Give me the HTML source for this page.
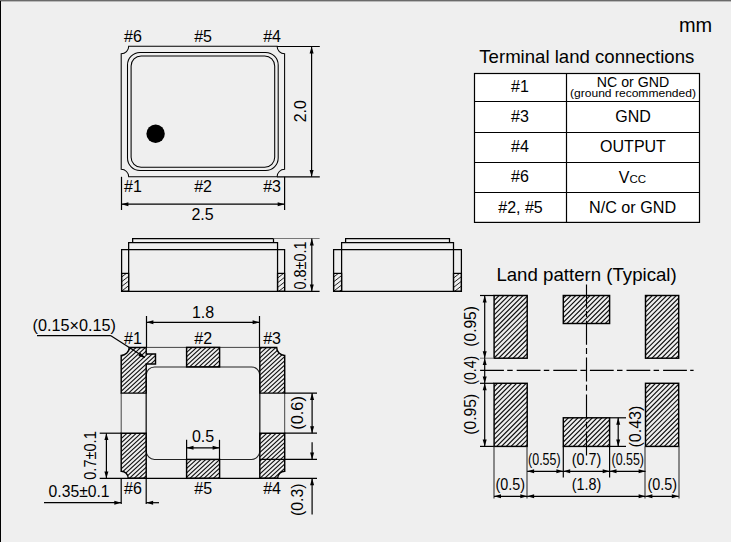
<!DOCTYPE html>
<html><head><meta charset="utf-8"><title>Package dimensions</title>
<style>
html,body{margin:0;padding:0;background:#efefef;}
body{width:731px;height:542px;overflow:hidden;font-family:"Liberation Sans",sans-serif;}
svg{display:block;}
svg text{font-family:"Liberation Sans",sans-serif;fill:#000;}
</style></head><body>
<svg width="731" height="542" viewBox="0 0 731 542">
<rect x="0" y="0" width="731" height="542" fill="#efefef"/>
<rect x="0" y="0" width="731" height="1" fill="#6a6a6a"/>
<rect x="0" y="1" width="731" height="1" fill="#b9b9b9"/>
<rect x="0" y="1" width="1" height="541" fill="#000"/>
<path d="M128.7,46.25 H277.1 A7.5 7.5 0 0 0 284.6,53.75 V169.3 A7.5 7.5 0 0 0 277.1,176.8 H128.7 A7.5 7.5 0 0 0 121.2,169.3 V53.75 A7.5 7.5 0 0 0 128.7,46.25 Z" fill="none" stroke="#000" stroke-width="1.05"/>
<rect x="127.5" y="52.5" width="150.7" height="118.0" rx="12.5" fill="none" stroke="#000" stroke-width="1.05"/>
<rect x="131.1" y="56.0" width="143.6" height="111.19999999999999" rx="10" fill="none" stroke="#000" stroke-width="1.05"/>
<circle cx="155.6" cy="133.8" r="9.2" fill="#000"/>
<line x1="277.1" y1="46.5" x2="319.8" y2="46.5" stroke="#000" stroke-width="1.2" />
<line x1="277.1" y1="176.8" x2="319.8" y2="176.8" stroke="#000" stroke-width="1.2" />
<line x1="311.6" y1="46.5" x2="311.6" y2="176.8" stroke="#000" stroke-width="1.2" />
<polygon points="311.6,46.5 309.6,53.4 313.6,53.4" fill="#000"/>
<polygon points="311.6,176.8 309.6,169.9 313.6,169.9" fill="#000"/>
<line x1="121.5" y1="176.8" x2="121.5" y2="210" stroke="#000" stroke-width="1.2" />
<line x1="284.6" y1="176.8" x2="284.6" y2="210" stroke="#000" stroke-width="1.2" />
<line x1="121.5" y1="204.2" x2="284.6" y2="204.2" stroke="#000" stroke-width="1.2" />
<polygon points="121.5,204.2 128.4,202.2 128.4,206.2" fill="#000"/>
<polygon points="284.6,204.2 277.7,202.2 277.7,206.2" fill="#000"/>
<text x="124.1" y="42" font-size="16">#6</text>
<text x="194.2" y="42" font-size="16">#5</text>
<text x="263.2" y="42" font-size="16">#4</text>
<text x="124.1" y="191.7" font-size="16">#1</text>
<text x="194.2" y="191.7" font-size="16">#2</text>
<text x="263.2" y="191.7" font-size="16">#3</text>
<text x="202.6" y="220" font-size="16" text-anchor="middle">2.5</text>
<text x="306" y="111.2" font-size="16" text-anchor="middle" transform="rotate(-90 306 111.2)">2.0</text>
<clipPath id="c1"><path d="M121.6,273.4H128.65V291.3H121.6Z"/></clipPath>
<path d="M88.92,293.30L116.88,271.40M94.92,293.30L122.88,271.40M100.92,293.30L128.88,271.40M106.92,293.30L134.88,271.40M112.92,293.30L140.88,271.40M118.92,293.30L146.88,271.40M124.92,293.30L152.88,271.40M130.92,293.30L158.88,271.40M136.92,293.30L164.88,271.40" stroke="#222" stroke-width="1.0" fill="none" clip-path="url(#c1)"/>
<rect x="121.6" y="273.4" width="7.05" height="17.9" fill="none" stroke="#000" stroke-width="1.25"/>
<clipPath id="c2"><path d="M277.55,273.4H284.6V291.3H277.55Z"/></clipPath>
<path d="M246.15,293.30L274.10,271.40M252.15,293.30L280.10,271.40M258.15,293.30L286.10,271.40M264.15,293.30L292.10,271.40M270.15,293.30L298.10,271.40M276.15,293.30L304.10,271.40M282.15,293.30L310.10,271.40M288.15,293.30L316.10,271.40" stroke="#222" stroke-width="1.0" fill="none" clip-path="url(#c2)"/>
<rect x="277.55" y="273.4" width="7.05" height="17.9" fill="none" stroke="#000" stroke-width="1.25"/>
<path d="M121.6,249.6 H284.6 V291.3 H121.6 Z" fill="none" stroke="#000" stroke-width="1.25"/>
<path d="M128.65,291.3 V242.7 H277.55 V291.3" fill="none" stroke="#000" stroke-width="1.25"/>
<path d="M132.65,242.7 V238.7 H273.5 V242.7" fill="none" stroke="#000" stroke-width="1.25"/>
<clipPath id="c3"><path d="M333.6,273.4H341.6V291.3H333.6Z"/></clipPath>
<path d="M300.92,293.30L328.88,271.40M306.92,293.30L334.88,271.40M312.92,293.30L340.88,271.40M318.92,293.30L346.88,271.40M324.92,293.30L352.88,271.40M330.92,293.30L358.88,271.40M336.92,293.30L364.88,271.40M342.92,293.30L370.88,271.40M348.92,293.30L376.88,271.40" stroke="#222" stroke-width="1.0" fill="none" clip-path="url(#c3)"/>
<rect x="333.6" y="273.4" width="8.0" height="17.9" fill="none" stroke="#000" stroke-width="1.25"/>
<clipPath id="c4"><path d="M453.5,273.4H461.4V291.3H453.5Z"/></clipPath>
<path d="M422.10,293.30L450.05,271.40M428.10,293.30L456.05,271.40M434.10,293.30L462.05,271.40M440.10,293.30L468.05,271.40M446.10,293.30L474.05,271.40M452.10,293.30L480.05,271.40M458.10,293.30L486.05,271.40M464.10,293.30L492.05,271.40M470.10,293.30L498.05,271.40" stroke="#222" stroke-width="1.0" fill="none" clip-path="url(#c4)"/>
<rect x="453.5" y="273.4" width="7.9" height="17.9" fill="none" stroke="#000" stroke-width="1.25"/>
<path d="M333.6,249.6 H461.4 V291.3 H333.6 Z" fill="none" stroke="#000" stroke-width="1.25"/>
<path d="M341.6,291.3 V242.7 H453.5 V291.3" fill="none" stroke="#000" stroke-width="1.25"/>
<path d="M345.6,242.7 V238.7 H449.5 V242.7" fill="none" stroke="#000" stroke-width="1.25"/>
<line x1="273.5" y1="238.5" x2="319.6" y2="238.5" stroke="#777" stroke-width="1.0" />
<line x1="284.6" y1="291.3" x2="319.6" y2="291.3" stroke="#000" stroke-width="1.2" />
<line x1="311.8" y1="238.5" x2="311.8" y2="291.3" stroke="#000" stroke-width="1.2" />
<polygon points="311.8,238.5 309.8,245.4 313.8,245.4" fill="#000"/>
<polygon points="311.8,291.3 309.8,284.4 313.8,284.4" fill="#000"/>
<text x="306.2" y="265.5" font-size="16" text-anchor="middle" textLength="48" lengthAdjust="spacingAndGlyphs" transform="rotate(-90 306.2 265.5)">0.8±0.1</text>
<line x1="146.2" y1="347.4" x2="259.8" y2="347.4" stroke="#444" stroke-width="1.0" />
<line x1="121.2" y1="393.1" x2="121.2" y2="433.2" stroke="#444" stroke-width="1.0" />
<line x1="284.7" y1="393.1" x2="284.7" y2="433.2" stroke="#444" stroke-width="1.0" />
<line x1="146.2" y1="393.1" x2="146.2" y2="433.2" stroke="#444" stroke-width="1.0" />
<line x1="259.8" y1="393.1" x2="259.8" y2="433.2" stroke="#444" stroke-width="1.0" />
<line x1="99.7" y1="478.3" x2="317" y2="478.3" stroke="#000" stroke-width="1.2" />
<path d="M146.2,375.3 A8.3 8.3 0 0 1 154.5,367.0 H251.5 A8.3 8.3 0 0 1 259.8,375.3 V451.09999999999997 A8.3 8.3 0 0 1 251.5,459.4 H154.5 A8.3 8.3 0 0 1 146.2,451.09999999999997 Z" fill="none" stroke="#222" stroke-width="1.05"/>
<clipPath id="c5"><path d="M129.2,347.4 H146.2 V354.0 H155.5 V364.0 H146.2 V393.1 H121.2 V355.4 A8 8 0 0 0 129.2,347.4 Z"/></clipPath>
<path d="M61.18,395.10L115.04,345.40M65.84,395.10L119.70,345.40M70.50,395.10L124.36,345.40M75.16,395.10L129.02,345.40M79.82,395.10L133.68,345.40M84.48,395.10L138.34,345.40M89.14,395.10L143.00,345.40M93.80,395.10L147.66,345.40M98.46,395.10L152.32,345.40M103.12,395.10L156.98,345.40M107.78,395.10L161.64,345.40M112.44,395.10L166.30,345.40M117.10,395.10L170.96,345.40M121.76,395.10L175.62,345.40M126.42,395.10L180.28,345.40M131.08,395.10L184.94,345.40M135.74,395.10L189.60,345.40M140.40,395.10L194.26,345.40M145.06,395.10L198.92,345.40M149.72,395.10L203.58,345.40M154.38,395.10L208.24,345.40M159.04,395.10L212.90,345.40" stroke="#111" stroke-width="1.1" fill="none" clip-path="url(#c5)"/>
<path d="M129.2,347.4 H146.2 V354.0 H155.5 V364.0 H146.2 V393.1 H121.2 V355.4 A8 8 0 0 0 129.2,347.4 Z" fill="none" stroke="#000" stroke-width="1.45"/>
<clipPath id="c6"><path d="M259.8,347.4 H276.7 A8 8 0 0 0 284.7,355.4 V393.1 H259.8 Z"/></clipPath>
<path d="M200.98,395.10L254.84,345.40M205.64,395.10L259.50,345.40M210.30,395.10L264.16,345.40M214.96,395.10L268.82,345.40M219.62,395.10L273.48,345.40M224.28,395.10L278.14,345.40M228.94,395.10L282.80,345.40M233.60,395.10L287.46,345.40M238.26,395.10L292.12,345.40M242.92,395.10L296.78,345.40M247.58,395.10L301.44,345.40M252.24,395.10L306.10,345.40M256.90,395.10L310.76,345.40M261.56,395.10L315.42,345.40M266.22,395.10L320.08,345.40M270.88,395.10L324.74,345.40M275.54,395.10L329.40,345.40M280.20,395.10L334.06,345.40M284.86,395.10L338.72,345.40M289.52,395.10L343.38,345.40" stroke="#111" stroke-width="1.1" fill="none" clip-path="url(#c6)"/>
<path d="M259.8,347.4 H276.7 A8 8 0 0 0 284.7,355.4 V393.1 H259.8 Z" fill="none" stroke="#000" stroke-width="1.45"/>
<clipPath id="c7"><path d="M121.2,433.2 H146.2 V478.3 H128.2 A7 7 0 0 0 121.2,471.3 Z"/></clipPath>
<path d="M62.04,480.30L115.26,431.20M66.70,480.30L119.92,431.20M71.36,480.30L124.58,431.20M76.02,480.30L129.24,431.20M80.68,480.30L133.90,431.20M85.34,480.30L138.56,431.20M90.00,480.30L143.22,431.20M94.66,480.30L147.88,431.20M99.32,480.30L152.54,431.20M103.98,480.30L157.20,431.20M108.64,480.30L161.86,431.20M113.30,480.30L166.52,431.20M117.96,480.30L171.18,431.20M122.62,480.30L175.84,431.20M127.28,480.30L180.50,431.20M131.94,480.30L185.16,431.20M136.60,480.30L189.82,431.20M141.26,480.30L194.48,431.20M145.92,480.30L199.14,431.20M150.58,480.30L203.80,431.20" stroke="#111" stroke-width="1.1" fill="none" clip-path="url(#c7)"/>
<path d="M121.2,433.2 H146.2 V478.3 H128.2 A7 7 0 0 0 121.2,471.3 Z" fill="none" stroke="#000" stroke-width="1.45"/>
<clipPath id="c8"><path d="M259.8,433.2 H284.7 V471.3 A7 7 0 0 0 277.7,478.3 H259.8 Z"/></clipPath>
<path d="M201.84,480.30L255.06,431.20M206.50,480.30L259.72,431.20M211.16,480.30L264.38,431.20M215.82,480.30L269.04,431.20M220.48,480.30L273.70,431.20M225.14,480.30L278.36,431.20M229.80,480.30L283.02,431.20M234.46,480.30L287.68,431.20M239.12,480.30L292.34,431.20M243.78,480.30L297.00,431.20M248.44,480.30L301.66,431.20M253.10,480.30L306.32,431.20M257.76,480.30L310.98,431.20M262.42,480.30L315.64,431.20M267.08,480.30L320.30,431.20M271.74,480.30L324.96,431.20M276.40,480.30L329.62,431.20M281.06,480.30L334.28,431.20M285.72,480.30L338.94,431.20M290.38,480.30L343.60,431.20" stroke="#111" stroke-width="1.1" fill="none" clip-path="url(#c8)"/>
<path d="M259.8,433.2 H284.7 V471.3 A7 7 0 0 0 277.7,478.3 H259.8 Z" fill="none" stroke="#000" stroke-width="1.45"/>
<clipPath id="c9"><path d="M186.6,347.4H219.6V366.9H186.6Z"/></clipPath>
<path d="M154.81,368.90L180.28,345.40M159.47,368.90L184.94,345.40M164.13,368.90L189.60,345.40M168.79,368.90L194.26,345.40M173.45,368.90L198.92,345.40M178.11,368.90L203.58,345.40M182.77,368.90L208.24,345.40M187.43,368.90L212.90,345.40M192.09,368.90L217.56,345.40M196.75,368.90L222.22,345.40M201.41,368.90L226.88,345.40M206.07,368.90L231.54,345.40M210.73,368.90L236.20,345.40M215.39,368.90L240.86,345.40M220.05,368.90L245.52,345.40M224.71,368.90L250.18,345.40" stroke="#111" stroke-width="1.1" fill="none" clip-path="url(#c9)"/>
<rect x="186.6" y="347.4" width="33.0" height="19.5" fill="none" stroke="#000" stroke-width="1.45"/>
<clipPath id="c10"><path d="M186.6,459.4H219.6V478.3H186.6Z"/></clipPath>
<path d="M155.24,480.30L180.06,457.40M159.90,480.30L184.72,457.40M164.56,480.30L189.38,457.40M169.22,480.30L194.04,457.40M173.88,480.30L198.70,457.40M178.54,480.30L203.36,457.40M183.20,480.30L208.02,457.40M187.86,480.30L212.68,457.40M192.52,480.30L217.34,457.40M197.18,480.30L222.00,457.40M201.84,480.30L226.66,457.40M206.50,480.30L231.32,457.40M211.16,480.30L235.98,457.40M215.82,480.30L240.64,457.40M220.48,480.30L245.30,457.40M225.14,480.30L249.96,457.40" stroke="#111" stroke-width="1.1" fill="none" clip-path="url(#c10)"/>
<rect x="186.6" y="459.4" width="33.0" height="18.9" fill="none" stroke="#000" stroke-width="1.45"/>
<line x1="146.5" y1="316" x2="146.5" y2="347.4" stroke="#000" stroke-width="1.2" />
<line x1="259.5" y1="316" x2="259.5" y2="347.4" stroke="#000" stroke-width="1.2" />
<line x1="146.5" y1="322.3" x2="259.5" y2="322.3" stroke="#000" stroke-width="1.2" />
<polygon points="146.5,322.3 153.4,320.3 153.4,324.3" fill="#000"/>
<polygon points="259.5,322.3 252.6,320.3 252.6,324.3" fill="#000"/>
<text x="203" y="318" font-size="16" text-anchor="middle">1.8</text>
<text x="124.1" y="344" font-size="16">#1</text>
<text x="194.3" y="343.8" font-size="16">#2</text>
<text x="263.2" y="343.8" font-size="16">#3</text>
<text x="124.1" y="494" font-size="16">#6</text>
<text x="194.3" y="494" font-size="16">#5</text>
<text x="263.2" y="494" font-size="16">#4</text>
<text x="32.6" y="331.2" font-size="16" textLength="83.3" lengthAdjust="spacingAndGlyphs">(0.15×0.15)</text>
<line x1="37" y1="335.7" x2="110.9" y2="335.7" stroke="#000" stroke-width="1.2" />
<line x1="110.9" y1="335.7" x2="144.5" y2="357.3" stroke="#000" stroke-width="1.2" />
<polygon points="145.6,358 138.3,356 140.3,352.8" fill="#000"/>
<line x1="186.6" y1="439.8" x2="186.6" y2="459.4" stroke="#000" stroke-width="1.2" />
<line x1="219.5" y1="439.8" x2="219.5" y2="459.4" stroke="#000" stroke-width="1.2" />
<line x1="186.6" y1="447.8" x2="219.5" y2="447.8" stroke="#000" stroke-width="1.2" />
<polygon points="186.6,447.8 193.5,445.8 193.5,449.8" fill="#000"/>
<polygon points="219.5,447.8 212.6,445.8 212.6,449.8" fill="#000"/>
<text x="203" y="442.4" font-size="16" text-anchor="middle">0.5</text>
<line x1="99.7" y1="433.2" x2="121.2" y2="433.2" stroke="#000" stroke-width="1.2" />
<line x1="106.4" y1="433.2" x2="106.4" y2="478.3" stroke="#000" stroke-width="1.2" />
<polygon points="106.4,433.2 104.4,440.1 108.4,440.1" fill="#000"/>
<polygon points="106.4,478.3 104.4,471.4 108.4,471.4" fill="#000"/>
<text x="96" y="455.5" font-size="16" text-anchor="middle" textLength="48.5" lengthAdjust="spacingAndGlyphs" transform="rotate(-90 96 455.5)">0.7±0.1</text>
<line x1="121.2" y1="478.3" x2="121.2" y2="504" stroke="#000" stroke-width="1.2" />
<line x1="146.2" y1="478.3" x2="146.2" y2="504" stroke="#000" stroke-width="1.2" />
<line x1="44" y1="502.7" x2="121.2" y2="502.7" stroke="#000" stroke-width="1.2" />
<polygon points="121.2,502.7 114.3,500.7 114.3,504.7" fill="#000"/>
<line x1="146.2" y1="502.7" x2="159" y2="502.7" stroke="#000" stroke-width="1.2" />
<polygon points="146.2,502.7 153.1,500.7 153.1,504.7" fill="#000"/>
<text x="48.6" y="497" font-size="16" textLength="61" lengthAdjust="spacingAndGlyphs">0.35±0.1</text>
<line x1="284.7" y1="393.1" x2="317" y2="393.1" stroke="#000" stroke-width="1.2" />
<line x1="284.7" y1="433.2" x2="317" y2="433.2" stroke="#000" stroke-width="1.2" />
<line x1="312.1" y1="393.1" x2="312.1" y2="433.2" stroke="#000" stroke-width="1.2" />
<polygon points="312.1,393.1 310.1,400.0 314.1,400.0" fill="#000"/>
<polygon points="312.1,433.2 310.1,426.3 314.1,426.3" fill="#000"/>
<text x="303.4" y="412.9" font-size="16" text-anchor="middle" textLength="33.5" lengthAdjust="spacingAndGlyphs" transform="rotate(-90 303.4 412.9)">(0.6)</text>
<line x1="259.8" y1="459.4" x2="317" y2="459.4" stroke="#000" stroke-width="1.2" />
<line x1="312.1" y1="442.3" x2="312.1" y2="459.4" stroke="#000" stroke-width="1.2" />
<polygon points="312.1,459.4 310.1,452.5 314.1,452.5" fill="#000"/>
<line x1="312.1" y1="478.3" x2="312.1" y2="514.5" stroke="#000" stroke-width="1.2" />
<polygon points="312.1,478.3 310.1,485.2 314.1,485.2" fill="#000"/>
<text x="303.4" y="499.8" font-size="16" text-anchor="middle" textLength="32.5" lengthAdjust="spacingAndGlyphs" transform="rotate(-90 303.4 499.8)">(0.3)</text>
<text x="479.3" y="63.2" font-size="18.6" textLength="215" lengthAdjust="spacingAndGlyphs">Terminal land connections</text>
<text x="678.9" y="31.8" font-size="19.9" textLength="33.2" lengthAdjust="spacingAndGlyphs">mm</text>
<rect x="474.5" y="73.5" width="225.0" height="148.9" fill="#fff" stroke="#000" stroke-width="1.2"/>
<line x1="474.5" y1="101.5" x2="699.5" y2="101.5" stroke="#000" stroke-width="1.2" />
<line x1="474.5" y1="132.5" x2="699.5" y2="132.5" stroke="#000" stroke-width="1.2" />
<line x1="474.5" y1="162.5" x2="699.5" y2="162.5" stroke="#000" stroke-width="1.2" />
<line x1="474.5" y1="192.5" x2="699.5" y2="192.5" stroke="#000" stroke-width="1.2" />
<line x1="566.5" y1="73.5" x2="566.5" y2="222.4" stroke="#000" stroke-width="1.2" />
<text x="520.0" y="92.3" font-size="16" text-anchor="middle">#1</text>
<text x="633.0" y="86.6" font-size="15" text-anchor="middle" textLength="72.3" lengthAdjust="spacingAndGlyphs">NC or GND</text>
<text x="633.0" y="97.2" font-size="11.5" text-anchor="middle" textLength="126" lengthAdjust="spacingAndGlyphs">(ground recommended)</text>
<text x="520.0" y="122.1" font-size="16" text-anchor="middle">#3</text>
<text x="633.0" y="122.1" font-size="16" text-anchor="middle">GND</text>
<text x="520.0" y="152" font-size="16" text-anchor="middle">#4</text>
<text x="633.0" y="152" font-size="16" text-anchor="middle">OUTPUT</text>
<text x="520.0" y="182.4" font-size="16" text-anchor="middle">#6</text>
<text x="632.5" y="183" font-size="16" text-anchor="middle">V<tspan font-size="11.5">CC</tspan></text>
<text x="520.5" y="212.8" font-size="16" text-anchor="middle">#2, #5</text>
<text x="632.6" y="212.8" font-size="16" text-anchor="middle" textLength="87.2" lengthAdjust="spacingAndGlyphs">N/C or GND</text>
<text x="496.4" y="281.1" font-size="18.6" textLength="180.3" lengthAdjust="spacingAndGlyphs">Land pattern (Typical)</text>
<clipPath id="c11"><path d="M494.1,295.5H527.2V358.2H494.1Z"/></clipPath>
<path d="M420.03,360.20L486.73,293.50M424.82,360.20L491.52,293.50M429.61,360.20L496.31,293.50M434.40,360.20L501.10,293.50M439.19,360.20L505.89,293.50M443.98,360.20L510.68,293.50M448.77,360.20L515.47,293.50M453.56,360.20L520.26,293.50M458.35,360.20L525.05,293.50M463.14,360.20L529.84,293.50M467.93,360.20L534.63,293.50M472.72,360.20L539.42,293.50M477.51,360.20L544.21,293.50M482.30,360.20L549.00,293.50M487.09,360.20L553.79,293.50M491.88,360.20L558.58,293.50M496.67,360.20L563.37,293.50M501.46,360.20L568.16,293.50M506.25,360.20L572.95,293.50M511.04,360.20L577.74,293.50M515.83,360.20L582.53,293.50M520.62,360.20L587.32,293.50M525.41,360.20L592.11,293.50M530.20,360.20L596.90,293.50" stroke="#111" stroke-width="1.18" fill="none" clip-path="url(#c11)"/>
<rect x="494.1" y="295.5" width="33.1" height="62.7" fill="none" stroke="#000" stroke-width="1.45"/>
<clipPath id="c12"><path d="M645.5,295.5H678.7V358.2H645.5Z"/></clipPath>
<path d="M573.31,360.20L640.01,293.50M578.10,360.20L644.80,293.50M582.89,360.20L649.59,293.50M587.68,360.20L654.38,293.50M592.47,360.20L659.17,293.50M597.26,360.20L663.96,293.50M602.05,360.20L668.75,293.50M606.84,360.20L673.54,293.50M611.63,360.20L678.33,293.50M616.42,360.20L683.12,293.50M621.21,360.20L687.91,293.50M626.00,360.20L692.70,293.50M630.79,360.20L697.49,293.50M635.58,360.20L702.28,293.50M640.37,360.20L707.07,293.50M645.16,360.20L711.86,293.50M649.95,360.20L716.65,293.50M654.74,360.20L721.44,293.50M659.53,360.20L726.23,293.50M664.32,360.20L731.02,293.50M669.11,360.20L735.81,293.50M673.90,360.20L740.60,293.50M678.69,360.20L745.39,293.50M683.48,360.20L750.18,293.50" stroke="#111" stroke-width="1.18" fill="none" clip-path="url(#c12)"/>
<rect x="645.5" y="295.5" width="33.2" height="62.7" fill="none" stroke="#000" stroke-width="1.45"/>
<clipPath id="c13"><path d="M494.1,383.3H527.2V446.4H494.1Z"/></clipPath>
<path d="M422.84,448.40L489.94,381.30M427.63,448.40L494.73,381.30M432.42,448.40L499.52,381.30M437.21,448.40L504.31,381.30M442.00,448.40L509.10,381.30M446.79,448.40L513.89,381.30M451.58,448.40L518.68,381.30M456.37,448.40L523.47,381.30M461.16,448.40L528.26,381.30M465.95,448.40L533.05,381.30M470.74,448.40L537.84,381.30M475.53,448.40L542.63,381.30M480.32,448.40L547.42,381.30M485.11,448.40L552.21,381.30M489.90,448.40L557.00,381.30M494.69,448.40L561.79,381.30M499.48,448.40L566.58,381.30M504.27,448.40L571.37,381.30M509.06,448.40L576.16,381.30M513.85,448.40L580.95,381.30M518.64,448.40L585.74,381.30M523.43,448.40L590.53,381.30M528.22,448.40L595.32,381.30M533.01,448.40L600.11,381.30" stroke="#111" stroke-width="1.18" fill="none" clip-path="url(#c13)"/>
<rect x="494.1" y="383.3" width="33.1" height="63.1" fill="none" stroke="#000" stroke-width="1.45"/>
<clipPath id="c14"><path d="M645.5,383.3H678.7V446.4H645.5Z"/></clipPath>
<path d="M571.33,448.40L638.43,381.30M576.12,448.40L643.22,381.30M580.91,448.40L648.01,381.30M585.70,448.40L652.80,381.30M590.49,448.40L657.59,381.30M595.28,448.40L662.38,381.30M600.07,448.40L667.17,381.30M604.86,448.40L671.96,381.30M609.65,448.40L676.75,381.30M614.44,448.40L681.54,381.30M619.23,448.40L686.33,381.30M624.02,448.40L691.12,381.30M628.81,448.40L695.91,381.30M633.60,448.40L700.70,381.30M638.39,448.40L705.49,381.30M643.18,448.40L710.28,381.30M647.97,448.40L715.07,381.30M652.76,448.40L719.86,381.30M657.55,448.40L724.65,381.30M662.34,448.40L729.44,381.30M667.13,448.40L734.23,381.30M671.92,448.40L739.02,381.30M676.71,448.40L743.81,381.30M681.50,448.40L748.60,381.30" stroke="#111" stroke-width="1.18" fill="none" clip-path="url(#c14)"/>
<rect x="645.5" y="383.3" width="33.2" height="63.1" fill="none" stroke="#000" stroke-width="1.45"/>
<clipPath id="c15"><path d="M563.3,295.5H609.6V323.5H563.3Z"/></clipPath>
<path d="M526.58,325.50L558.58,293.50M531.37,325.50L563.37,293.50M536.16,325.50L568.16,293.50M540.95,325.50L572.95,293.50M545.74,325.50L577.74,293.50M550.53,325.50L582.53,293.50M555.32,325.50L587.32,293.50M560.11,325.50L592.11,293.50M564.90,325.50L596.90,293.50M569.69,325.50L601.69,293.50M574.48,325.50L606.48,293.50M579.27,325.50L611.27,293.50M584.06,325.50L616.06,293.50M588.85,325.50L620.85,293.50M593.64,325.50L625.64,293.50M598.43,325.50L630.43,293.50M603.22,325.50L635.22,293.50M608.01,325.50L640.01,293.50M612.80,325.50L644.80,293.50" stroke="#111" stroke-width="1.18" fill="none" clip-path="url(#c15)"/>
<rect x="563.3" y="295.5" width="46.3" height="28.0" fill="none" stroke="#000" stroke-width="1.45"/>
<clipPath id="c16"><path d="M563.3,417.8H609.6V446.4H563.3Z"/></clipPath>
<path d="M523.43,448.40L556.03,415.80M528.22,448.40L560.82,415.80M533.01,448.40L565.61,415.80M537.80,448.40L570.40,415.80M542.59,448.40L575.19,415.80M547.38,448.40L579.98,415.80M552.17,448.40L584.77,415.80M556.96,448.40L589.56,415.80M561.75,448.40L594.35,415.80M566.54,448.40L599.14,415.80M571.33,448.40L603.93,415.80M576.12,448.40L608.72,415.80M580.91,448.40L613.51,415.80M585.70,448.40L618.30,415.80M590.49,448.40L623.09,415.80M595.28,448.40L627.88,415.80M600.07,448.40L632.67,415.80M604.86,448.40L637.46,415.80M609.65,448.40L642.25,415.80M614.44,448.40L647.04,415.80" stroke="#111" stroke-width="1.18" fill="none" clip-path="url(#c16)"/>
<rect x="563.3" y="417.8" width="46.3" height="28.6" fill="none" stroke="#000" stroke-width="1.45"/>
<line x1="480.1" y1="370.4" x2="693.6" y2="370.4" stroke="#000" stroke-width="1.15" stroke-dasharray="23.8 3.3 5.5 4"/>
<line x1="586.5" y1="284.4" x2="586.5" y2="456.5" stroke="#000" stroke-width="1.15" stroke-dasharray="24 3.2 6 3.7" stroke-dashoffset="0.6"/>
<line x1="480" y1="295.5" x2="494.1" y2="295.5" stroke="#000" stroke-width="1.2" />
<line x1="480" y1="358.2" x2="494.1" y2="358.2" stroke="#777" stroke-width="1.0" />
<line x1="480" y1="383.3" x2="494.1" y2="383.3" stroke="#000" stroke-width="1.2" />
<line x1="480" y1="446.4" x2="494.1" y2="446.4" stroke="#000" stroke-width="1.2" />
<line x1="484.7" y1="295.5" x2="484.7" y2="358.2" stroke="#000" stroke-width="1.2" />
<polygon points="484.7,295.5 482.7,302.4 486.7,302.4" fill="#000"/>
<polygon points="484.7,358.2 482.7,351.3 486.7,351.3" fill="#000"/>
<line x1="484.7" y1="358.2" x2="484.7" y2="383.3" stroke="#000" stroke-width="1.2" />
<polygon points="484.7,358.2 482.7,365.1 486.7,365.1" fill="#000"/>
<polygon points="484.7,383.3 482.7,376.4 486.7,376.4" fill="#000"/>
<line x1="484.7" y1="383.3" x2="484.7" y2="446.4" stroke="#000" stroke-width="1.2" />
<polygon points="484.7,383.3 482.7,390.2 486.7,390.2" fill="#000"/>
<polygon points="484.7,446.4 482.7,439.5 486.7,439.5" fill="#000"/>
<text x="476.3" y="326.4" font-size="16" text-anchor="middle" textLength="40.5" lengthAdjust="spacingAndGlyphs" transform="rotate(-90 476.3 326.4)">(0.95)</text>
<text x="476.3" y="370.3" font-size="16" text-anchor="middle" textLength="29" lengthAdjust="spacingAndGlyphs" transform="rotate(-90 476.3 370.3)">(0.4)</text>
<text x="476.3" y="414.3" font-size="16" text-anchor="middle" textLength="41" lengthAdjust="spacingAndGlyphs" transform="rotate(-90 476.3 414.3)">(0.95)</text>
<line x1="494" y1="446.4" x2="494" y2="498.5" stroke="#333" stroke-width="1.1" />
<line x1="527" y1="446.4" x2="527" y2="498.5" stroke="#333" stroke-width="1.1" />
<line x1="645" y1="446.4" x2="645" y2="498.5" stroke="#333" stroke-width="1.1" />
<line x1="679" y1="446.4" x2="679" y2="498.5" stroke="#333" stroke-width="1.1" />
<line x1="563.3" y1="446.4" x2="563.3" y2="477.6" stroke="#000" stroke-width="1.2" />
<line x1="609.6" y1="446.4" x2="609.6" y2="477.6" stroke="#000" stroke-width="1.2" />
<line x1="527.2" y1="471.3" x2="563.3" y2="471.3" stroke="#000" stroke-width="1.2" />
<polygon points="527.2,471.3 534.1,469.3 534.1,473.3" fill="#000"/>
<polygon points="563.3,471.3 556.4,469.3 556.4,473.3" fill="#000"/>
<line x1="563.3" y1="471.3" x2="609.6" y2="471.3" stroke="#000" stroke-width="1.2" />
<polygon points="563.3,471.3 570.2,469.3 570.2,473.3" fill="#000"/>
<polygon points="609.6,471.3 602.7,469.3 602.7,473.3" fill="#000"/>
<line x1="609.6" y1="471.3" x2="645.5" y2="471.3" stroke="#000" stroke-width="1.2" />
<polygon points="609.6,471.3 616.5,469.3 616.5,473.3" fill="#000"/>
<polygon points="645.5,471.3 638.6,469.3 638.6,473.3" fill="#000"/>
<line x1="494.1" y1="496.3" x2="527.2" y2="496.3" stroke="#000" stroke-width="1.2" />
<polygon points="494.1,496.3 501.0,494.3 501.0,498.3" fill="#000"/>
<polygon points="527.2,496.3 520.3,494.3 520.3,498.3" fill="#000"/>
<line x1="527.2" y1="496.3" x2="645.5" y2="496.3" stroke="#000" stroke-width="1.2" />
<polygon points="527.2,496.3 534.1,494.3 534.1,498.3" fill="#000"/>
<polygon points="645.5,496.3 638.6,494.3 638.6,498.3" fill="#000"/>
<line x1="645.5" y1="496.3" x2="678.7" y2="496.3" stroke="#000" stroke-width="1.2" />
<polygon points="645.5,496.3 652.4,494.3 652.4,498.3" fill="#000"/>
<polygon points="678.7,496.3 671.8,494.3 671.8,498.3" fill="#000"/>
<text x="528.1" y="464.7" font-size="16" textLength="32.5" lengthAdjust="spacingAndGlyphs">(0.55)</text>
<text x="571.8" y="464.7" font-size="16" textLength="29.5" lengthAdjust="spacingAndGlyphs">(0.7)</text>
<text x="611.5" y="464.7" font-size="16" textLength="32.5" lengthAdjust="spacingAndGlyphs">(0.55)</text>
<text x="495.6" y="489.8" font-size="16" textLength="29.5" lengthAdjust="spacingAndGlyphs">(0.5)</text>
<text x="571.8" y="489.8" font-size="16" textLength="29.5" lengthAdjust="spacingAndGlyphs">(1.8)</text>
<text x="647.6" y="489.8" font-size="16" textLength="29.5" lengthAdjust="spacingAndGlyphs">(0.5)</text>
<line x1="609.6" y1="417.8" x2="626" y2="417.8" stroke="#000" stroke-width="1.2" />
<line x1="609.6" y1="446.4" x2="626" y2="446.4" stroke="#000" stroke-width="1.2" />
<line x1="618.2" y1="417.8" x2="618.2" y2="446.4" stroke="#000" stroke-width="1.2" />
<polygon points="618.2,417.8 616.2,424.7 620.2,424.7" fill="#000"/>
<polygon points="618.2,446.4 616.2,439.5 620.2,439.5" fill="#000"/>
<text x="641.2" y="426.6" font-size="16" text-anchor="middle" textLength="42" lengthAdjust="spacingAndGlyphs" transform="rotate(-90 641.2 426.6)">(0.43)</text>
</svg>
</body></html>
